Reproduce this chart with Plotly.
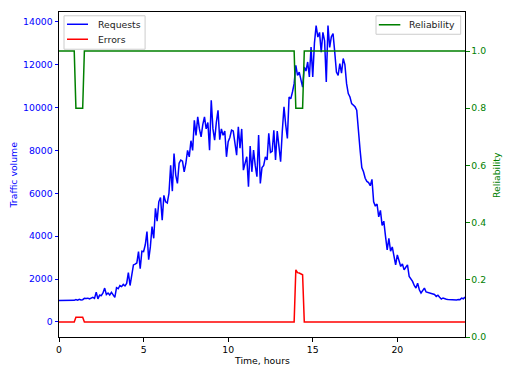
import numpy as np
import plotly.graph_objects as go

hours = np.linspace(0, 24, 241)

requests = [
    1000, 1000, 1000, 1000, 1000, 1000, 1000, 1000, 1000, 1010,
    1050, 1020, 1060, 1030, 1040, 1100, 1090, 1110, 1080, 1120,
    1150, 1100, 1390, 1080, 1250, 1230, 1350, 1580, 1280, 1350,
    1260, 1380, 1280, 1150, 1600, 1550, 1700, 1650, 1750, 1680,
    1800, 2300, 1700, 2100, 2660, 2700, 2750, 3280, 2480, 3300,
    3280, 3600, 4210, 2900, 3500, 4450, 3900, 5300, 4700, 5600,
    5800, 4750, 5900, 5600, 5550, 6000, 7300, 6100, 7850, 6850,
    6460, 7400, 7550, 7500, 7000, 7400, 8000, 7700, 8450, 8000,
    9400, 8700, 9560, 9000, 8630, 9200, 9560, 9000, 9300, 8010,
    10330, 9000, 8480, 9300, 9870, 8500, 9000, 8700, 8900, 7700,
    8400, 8600, 8940, 8900, 8300, 7780, 9100, 8100, 9000, 7080,
    7400, 7700, 6300, 8200, 7000, 8010, 7300, 6770, 8710, 6460,
    7200, 7300, 7700, 7550, 8790, 7900, 7950, 8940, 7550, 8900,
    8200, 7470, 8900, 10030, 9200, 8560, 10490, 10400, 10720, 11110,
    11960, 11500, 11650, 11200, 10950, 11880, 11700, 12120, 11420, 12820,
    11420, 13000, 13820, 13280, 13500, 12580, 13500, 13100, 11190, 13820,
    12800, 13300, 13440, 12580, 11650, 11500, 12040, 11600, 12280, 12000,
    11110, 10650, 10490, 10180, 10100, 10030, 9870, 8710, 8000, 7200,
    7000, 6700, 6550, 6500, 6350, 6650, 5600, 5400, 5500, 4900,
    5200, 4500, 4700, 4000, 3360, 3900, 3300, 3500, 3050, 2660,
    3130, 2900, 2590, 2700, 2430, 2550, 2660, 2120, 2000, 1890,
    1700, 1580, 1810, 1500, 1350, 1450, 1580, 1400, 1380, 1350,
    1350, 1300, 1280, 1190, 1250, 1150, 1070, 1120, 1080, 1060,
    1050, 1040, 1040, 1030, 1040, 1030, 1050, 1040, 1110, 1080,
    1160,
]

errors = (
    [0] * 10 + [220, 215, 225, 220, 225] + [0] * 125
    + [2430, 2300, 2280, 2230, 2200] + [0] * 96
)

reliability = (
    [1.0] * 10 + [0.8] * 5 + [1.0] * 125
    + [0.8] * 5 + [1.0] * 96
)

left_ticks = [0, 2000, 4000, 6000, 8000, 10000, 12000, 14000]
left_labels = [str(v) for v in left_ticks]
right_ticks = [0.0, 0.2, 0.4, 0.6, 0.8, 1.0]
right_labels = ["%.1f" % v for v in right_ticks]
x_ticks = [0, 5, 10, 15, 20]
x_labels = [str(v) for v in x_ticks]

FONT = "DejaVu Sans"
FS = 9.3
OFF = 8  # page body margin of the browser
W, H = 514 - 2 * OFF, 376 - 2 * OFF
# plot area in page pixels, converted to figure pixels
L, R, T, B = 59 - OFF, 464.6 - OFF, 11.7 - OFF, 337.3 - OFF


def px(x):
    return ((x - OFF) - L) / (R - L)


def py(y):
    return 1 - ((y - OFF) - T) / (B - T)


fig = go.Figure()
fig.add_trace(go.Scatter(x=hours, y=requests, mode="lines", name="Requests",
                         line=dict(color="blue", width=1.5)))
fig.add_trace(go.Scatter(x=hours, y=errors, mode="lines", name="Errors",
                         line=dict(color="red", width=1.5)))
fig.add_trace(go.Scatter(x=hours, y=reliability, mode="lines", name="Reliability",
                         line=dict(color="green", width=1.5), yaxis="y2"))

shapes = []
annotations = []


def legend_box(x0, y0, x1, y1, items):
    shapes.append(dict(type="rect", xref="paper", yref="paper", layer="above",
                       x0=px(x0), x1=px(x1), y0=py(y0), y1=py(y1),
                       fillcolor="rgba(255,255,255,0.8)",
                       line=dict(color="#cccccc", width=1)))
    for (lx0, lx1, ly, tx, label, color) in items:
        shapes.append(dict(type="line", xref="paper", yref="paper", layer="above",
                           x0=px(lx0), x1=px(lx1), y0=py(ly), y1=py(ly),
                           line=dict(color=color, width=1.5)))
        annotations.append(dict(xref="paper", yref="paper", x=px(tx), y=py(ly),
                                xanchor="left", yanchor="middle", showarrow=False,
                                text=label, font=dict(size=FS, color="#222222")))


legend_box(64, 15.5, 145, 49,
           [(67, 88, 24, 96, "Requests", "blue"),
            (67, 88, 39, 96, "Errors", "red")])
legend_box(375.7, 15.5, 460.3, 34,
           [(378.5, 400, 24.5, 407, "Reliability", "green")])

annotations.append(dict(xref="paper", yref="paper", x=px(14), y=py(174.5),
                        xanchor="center", yanchor="middle", showarrow=False,
                        textangle=-90, text="Traffic volume",
                        font=dict(size=FS, color="blue")))
annotations.append(dict(xref="paper", yref="paper", x=px(496), y=py(174.5),
                        xanchor="center", yanchor="middle", showarrow=False,
                        textangle=-90, text="Reliability",
                        font=dict(size=FS, color="green")))
annotations.append(dict(xref="paper", yref="paper", x=px(261.8), y=py(361),
                        xanchor="center", yanchor="middle", showarrow=False,
                        text="Time, hours", font=dict(size=FS, color="black")))

fig.update_layout(
    width=W, height=H,
    margin=dict(l=L, r=W - R, t=T, b=H - B, autoexpand=False),
    paper_bgcolor="white", plot_bgcolor="white",
    font=dict(family=FONT, size=FS, color="black"),
    showlegend=False,
    shapes=shapes, annotations=annotations,
    xaxis=dict(range=[0, 24], tickvals=x_ticks, ticktext=x_labels,
               showgrid=False, zeroline=False, automargin=False,
               showline=True, linecolor="black", linewidth=1, mirror=True,
               ticks="outside", ticklen=3.5, tickcolor="black",
               tickfont=dict(size=FS, color="black")),
    yaxis=dict(range=[-700, 14450], tickvals=left_ticks, ticktext=left_labels,
               showgrid=False, zeroline=False, automargin=False,
               showline=True, linecolor="black", linewidth=1, mirror=True,
               ticks="outside", ticklen=3.5, tickcolor="blue",
               tickfont=dict(color="blue", size=FS)),
    yaxis2=dict(range=[0, 1.1365], tickvals=right_ticks, ticktext=right_labels,
                overlaying="y", side="right", showgrid=False, zeroline=False,
                automargin=False, showline=False, ticks="outside", ticklen=3.5,
                tickcolor="green", tickfont=dict(color="green", size=FS)),
)

fig.write_html("out.html")
